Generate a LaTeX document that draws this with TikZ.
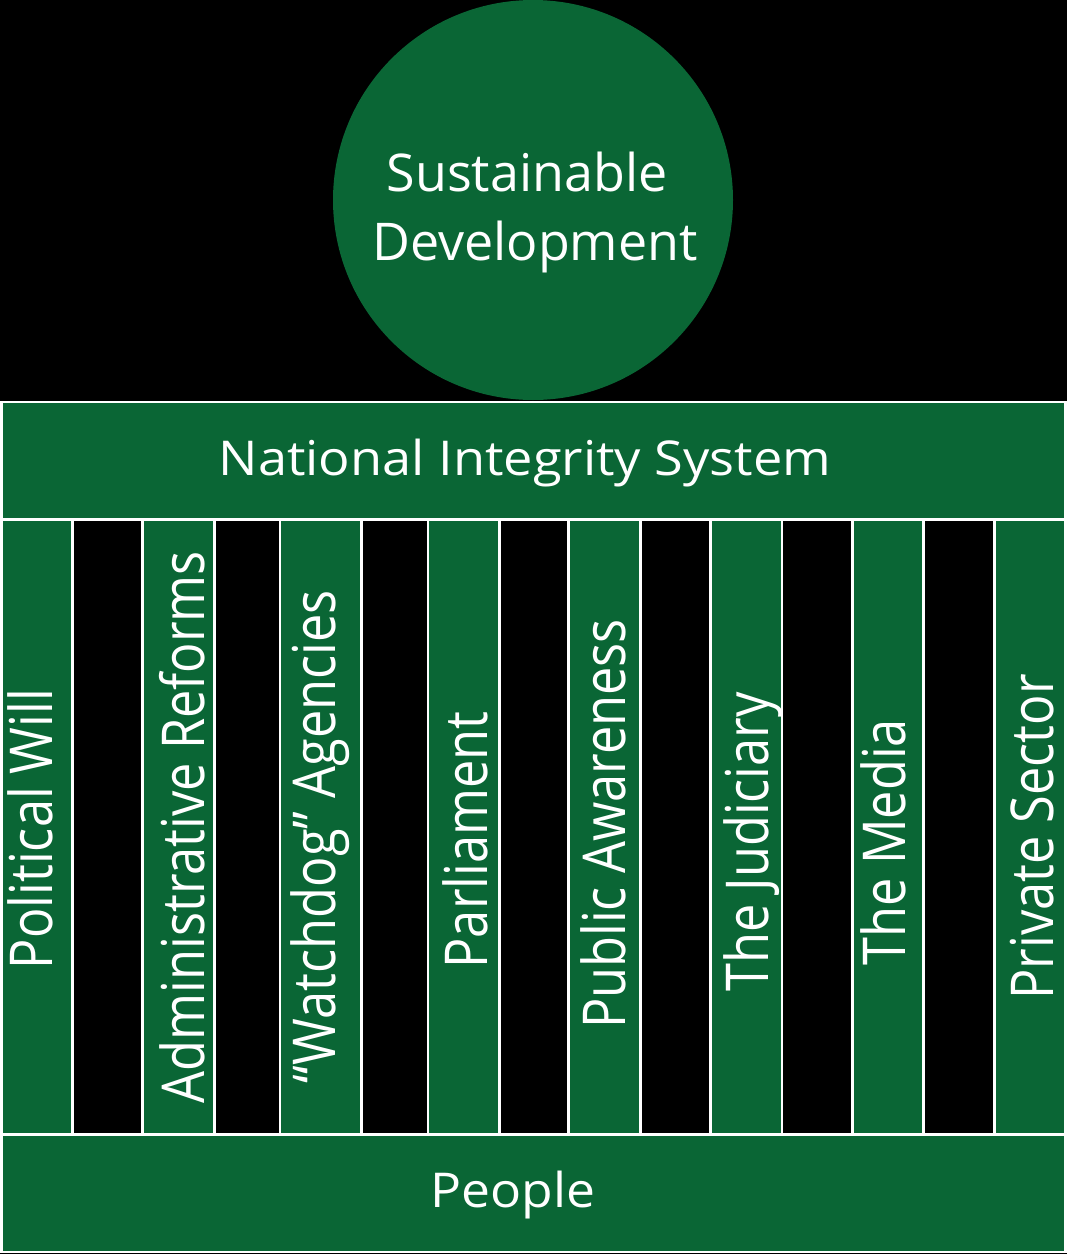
\documentclass[tikz,border=0pt]{standalone}
\usepackage{fontspec}
\setmainfont{Open Sans}
\usepackage{graphicx}
\definecolor{nisgreen}{RGB}{10,102,53}
\tikzset{
  greenbox/.style={fill=nisgreen, draw=white, line width=2.5pt},
  gapbox/.style={fill=black, draw=white, line width=2.5pt},
  htext/.style={text=white, inner sep=0pt, anchor=base},
  vtext/.style={text=white, inner sep=0pt, anchor=base, rotate=90, font=\fontsize{50.5}{50.5}\selectfont},
}
\newcommand{\vlab}[1]{\scalebox{1}[1.17]{#1}}
\begin{document}
\begin{tikzpicture}[x=1pt,y=-1pt]
  \fill[black] (0,0) rectangle (1067,1254);
  % sustainable development circle
  \fill[nisgreen] (533,200) circle (200);
  \node[htext, font=\fontsize{52}{52}\selectfont] (sd1) at (527,191) {Sustainable};
  \node[htext, font=\fontsize{52}{52}\selectfont] (sd2) at (535,260) {Development};
  % top beam
  \draw[greenbox] (1.5,402) rectangle (1065.5,519.5);
  \node[htext, font=\fontsize{48}{48}\selectfont] (nis) at (525,475) {\scalebox{1.09}[1]{National Integrity System}};
  % pillars and gaps
  \draw[greenbox] (1.5,519.5) rectangle (72.5,1134.5);
  \draw[gapbox]   (72.5,519.5) rectangle (142.5,1134.5);
  \draw[greenbox] (142.5,519.5) rectangle (214.5,1134.5);
  \draw[gapbox]   (214.5,519.5) rectangle (280,1134.5);
  \draw[greenbox] (280,519.5) rectangle (361.5,1134.5);
  \draw[gapbox]   (361.5,519.5) rectangle (428,1134.5);
  \draw[greenbox] (428,519.5) rectangle (499.5,1134.5);
  \draw[gapbox]   (499.5,519.5) rectangle (568.5,1134.5);
  \draw[greenbox] (568.5,519.5) rectangle (640.5,1134.5);
  \draw[gapbox]   (640.5,519.5) rectangle (710.5,1134.5);
  \draw[greenbox] (710.5,519.5) rectangle (782,1134.5);
  \draw[gapbox]   (782,519.5) rectangle (852.5,1134.5);
  \draw[greenbox] (852.5,519.5) rectangle (923.5,1134.5);
  \draw[gapbox]   (923.5,519.5) rectangle (994.5,1134.5);
  \draw[greenbox] (994.5,519.5) rectangle (1065.5,1134.5);
  % pillar labels
  \node[vtext] (p1) at (52,829)   {\vlab{Political Will}};
  \node[vtext] (p2) at (204,827)  {\vlab{Administrative Reforms}};
  \node[vtext] (p3) at (335,837)  {\vlab{“Watchdog” Agencies}};
  \node[vtext] (p4) at (487,840)  {\vlab{Parliament}};
  \node[vtext] (p5) at (625,824)  {\vlab{Public Awareness}};
  \node[vtext] (p6) at (768,842)  {\vlab{The Judiciary}};
  \node[vtext] (p7) at (905,842)  {\vlab{The Media}};
  \node[vtext] (p8) at (1053,837) {\vlab{Private Sector}};
  % base
  \draw[greenbox] (1.5,1134.5) rectangle (1065.5,1252);
  \node[htext, font=\fontsize{48}{48}\selectfont] (people) at (513,1207) {\scalebox{1.075}[1]{People}};
\end{tikzpicture}
\end{document}
